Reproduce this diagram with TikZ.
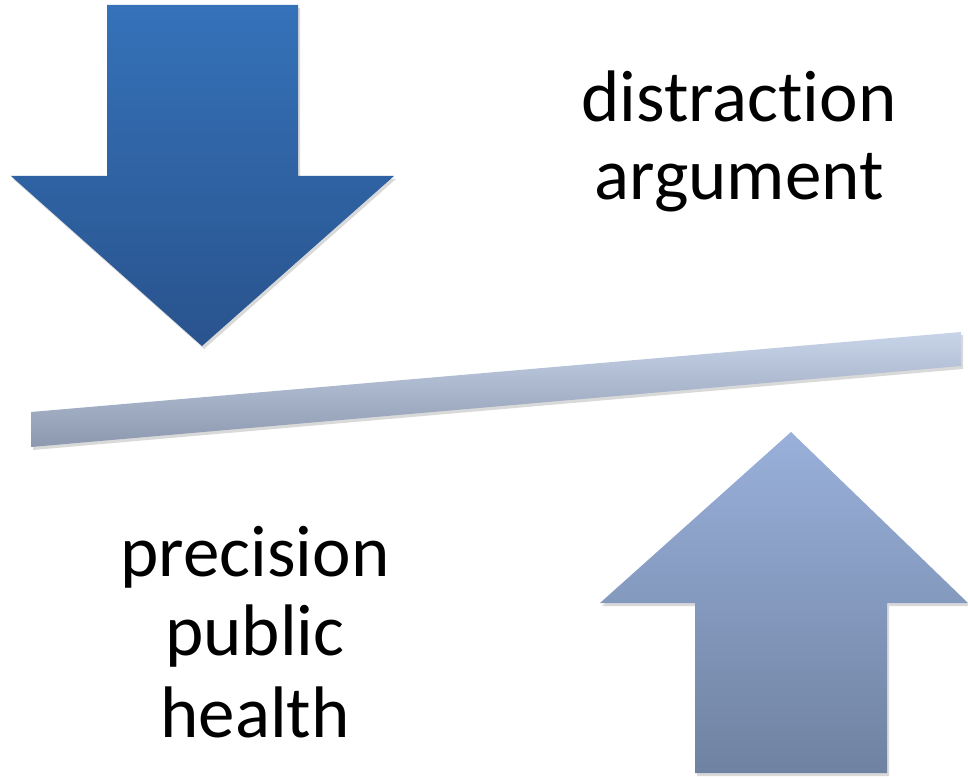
\documentclass[tikz,border=0pt]{standalone}
\usepackage{fontspec}
\setmainfont{Carlito}[Ligatures=CommonOff]
\definecolor{dtop}{RGB}{53,114,185}
\definecolor{dbot}{RGB}{41,83,141}
\definecolor{utop}{RGB}{153,176,218}
\definecolor{ubot}{RGB}{111,130,161}
\definecolor{btop}{RGB}{200,212,232}
\definecolor{bbot}{RGB}{140,152,175}
\begin{document}
\begin{tikzpicture}[x=1pt,y=-1pt,
  lbl/.style={anchor=base,inner sep=0pt,font=\fontsize{73}{76}\selectfont,text=black},
  shadowfill/.style={fill=black,opacity=0.15}]
\useasboundingbox (0,0) rectangle (968,778);
% shadows
\fill[shadowfill] (109,8) -- (300,8) -- (300,179) -- (396,179) -- (204,349) -- (13,179) -- (109,179) -- cycle;
\fill[shadowfill] (793,435) -- (970,606) -- (889,606) -- (889,776) -- (697,776) -- (697,606) -- (602,606) -- cycle;
\fill[shadowfill] (33,415) -- (963,335) -- (963,369) -- (33,450) -- cycle;
% down arrow
\shade[top color=dtop, bottom color=dbot]
  (107,5) -- (298,5) -- (298,176) -- (394,176) -- (202,346) -- (11,176) -- (107,176) -- cycle;
% up arrow
\shade[top color=utop, bottom color=ubot]
  (791,432) -- (968,603) -- (887,603) -- (887,773) -- (695,773) -- (695,603) -- (600,603) -- cycle;
% bar
\shade[top color=btop, bottom color=bbot]
  (31,412) -- (961,332) -- (961,366) -- (31,447) -- cycle;
% texts
\node[lbl] (d1) at (739,122) {distraction};
\node[lbl] (d2) at (739,199) {argument};
\node[lbl] (p1) at (255,576) {precision};
\node[lbl] (p2) at (255,655) {public};
\node[lbl] (p3) at (255,737) {health};
\end{tikzpicture}
\end{document}
